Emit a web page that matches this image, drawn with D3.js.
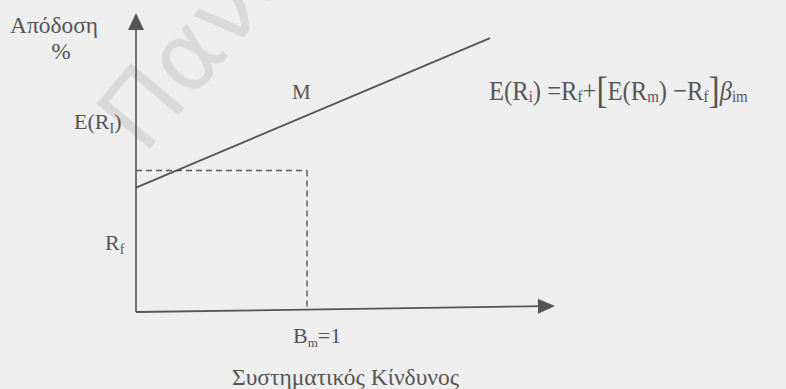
<!DOCTYPE html>
<html>
<head>
<meta charset="utf-8">
<script src="https://cdn.jsdelivr.net/npm/d3@7"></script>
<style>
  html, body { margin: 0; padding: 0; background: #eeeeee; }
  svg { display: block; }
  text { font-family: "Liberation Serif", "DejaVu Serif", serif; fill: #555; }
</style>
</head>
<body>
<svg id="chart" width="786" height="389"></svg>
<script>
// Security market line: expected return against systematic risk (beta)
const betaTicks = [1];                 // marked beta on the horizontal axis
const betaLabels = ["B", "m", "=1"];   // B_m=1
const smlBeta = [0, 2.07];             // ends of the drawn line
const smlReturn = [4.16, 9.16];        // expected return at those betas
const marketLevel = 4.73;              // dashed reference level
const axisMax = { beta: 2.45, ret: 10 };

const svg = d3.select("#chart");
const ink = "#555";

// background watermark
svg.append("text")
  .attr("transform", "translate(144,156) rotate(-50)")
  .attr("font-size", 96)
  .style("font-family", "'DejaVu Sans', sans-serif")
  .style("fill", "#d9d9d9")
  .text("Πανεπιστήμιο");

const x0 = 136, y0 = 312;
const x = d3.scaleLinear().domain([0, axisMax.beta]).range([x0, 555]);
const y = d3.scaleLinear().domain([0, axisMax.ret]).range([y0, 13]);

const g = svg.append("g");

// vertical axis with arrow
g.append("line")
  .attr("x1", x(0)).attr("y1", y(0))
  .attr("x2", x(0)).attr("y2", y(axisMax.ret) + 10)
  .attr("stroke", ink).attr("stroke-width", 1.6);
g.append("path")
  .attr("d", `M${x(0)},${y(axisMax.ret)} L${x(0) - 8},${y(axisMax.ret) + 17} L${x(0) + 8},${y(axisMax.ret) + 17} Z`)
  .attr("fill", ink);

// horizontal axis with arrow (slightly tilted as drawn)
const xa = g.append("g").attr("transform", `rotate(-0.82, ${x(0)}, ${y(0)})`);
xa.append("line")
  .attr("x1", x(0)).attr("y1", y(0))
  .attr("x2", x(axisMax.beta) - 10).attr("y2", y(0))
  .attr("stroke", ink).attr("stroke-width", 1.8);
xa.append("path")
  .attr("d", `M${x(axisMax.beta)},${y(0)} L${x(axisMax.beta) - 17},${y(0) - 7.5} L${x(axisMax.beta) - 17},${y(0) + 7.5} Z`)
  .attr("fill", ink);

// dashed guides at beta = 1
g.append("line")
  .attr("x1", x(0)).attr("y1", y(marketLevel))
  .attr("x2", x(betaTicks[0])).attr("y2", y(marketLevel))
  .attr("stroke", ink).attr("stroke-width", 1.4)
  .attr("stroke-dasharray", "6,4");
g.append("line")
  .attr("x1", x(betaTicks[0])).attr("y1", y(marketLevel))
  .attr("x2", x(betaTicks[0])).attr("y2", y(0) - 3)
  .attr("stroke", ink).attr("stroke-width", 1.4)
  .attr("stroke-dasharray", "6,4");

// security market line
const line = d3.line().x(d => x(d[0])).y(d => y(d[1]));
g.append("path")
  .datum(d3.zip(smlBeta, smlReturn))
  .attr("d", line)
  .attr("fill", "none")
  .attr("stroke", ink).attr("stroke-width", 1.8);

// labels
const t = (xx, yy, size, anchor) => svg.append("text")
  .attr("x", xx).attr("y", yy).attr("font-size", size)
  .attr("text-anchor", anchor || "start");

t(10, 33, 23).attr("textLength", 88).attr("lengthAdjust", "spacingAndGlyphs").text("Απόδοση");
t(61, 59, 23, "middle").text("%");

const er = t(74, 129, 22);
er.append("tspan").text("E(R");
er.append("tspan").attr("font-size", 14).attr("dy", 4).text("I");
er.append("tspan").attr("dy", -4).text(")");

t(292, 99, 21).text("M");

const rf = t(105, 250, 22);
rf.append("tspan").text("R");
rf.append("tspan").attr("font-size", 14).attr("dy", 4).text("f");

const bm = t(293, 343, 22);
bm.append("tspan").text(betaLabels[0]);
bm.append("tspan").attr("font-size", 13).attr("dy", 4).text(betaLabels[1]);
bm.append("tspan").attr("dy", -4).text(betaLabels[2]);

t(232, 385, 23).attr("textLength", 227).attr("lengthAdjust", "spacingAndGlyphs").text("Συστηματικός Κίνδυνος");

// CAPM formula, set slightly condensed
const f = svg.append("text")
  .attr("transform", "translate(489,100) scale(0.88,1)")
  .attr("font-size", 28);
f.append("tspan").text("E(R");
f.append("tspan").attr("font-size", 17).attr("dy", 2).text("i");
f.append("tspan").attr("dy", -2).text(") =R");
f.append("tspan").attr("font-size", 17).attr("dy", 2).text("f");
f.append("tspan").attr("dy", -2).text("+");
f.append("tspan").attr("font-size", 38).attr("dy", 3).text("[");
f.append("tspan").attr("dy", -3).text("E(R");
f.append("tspan").attr("font-size", 17).attr("dy", 2).text("m");
f.append("tspan").attr("dy", -2).text(") −R");
f.append("tspan").attr("font-size", 17).attr("dy", 2).text("f");
f.append("tspan").attr("font-size", 38).attr("dy", 1).text("]");
f.append("tspan").attr("dy", -3).attr("font-style", "italic").text("β");
f.append("tspan").attr("font-size", 17).attr("dy", 2).text("im");
</script>
</body>
</html>
